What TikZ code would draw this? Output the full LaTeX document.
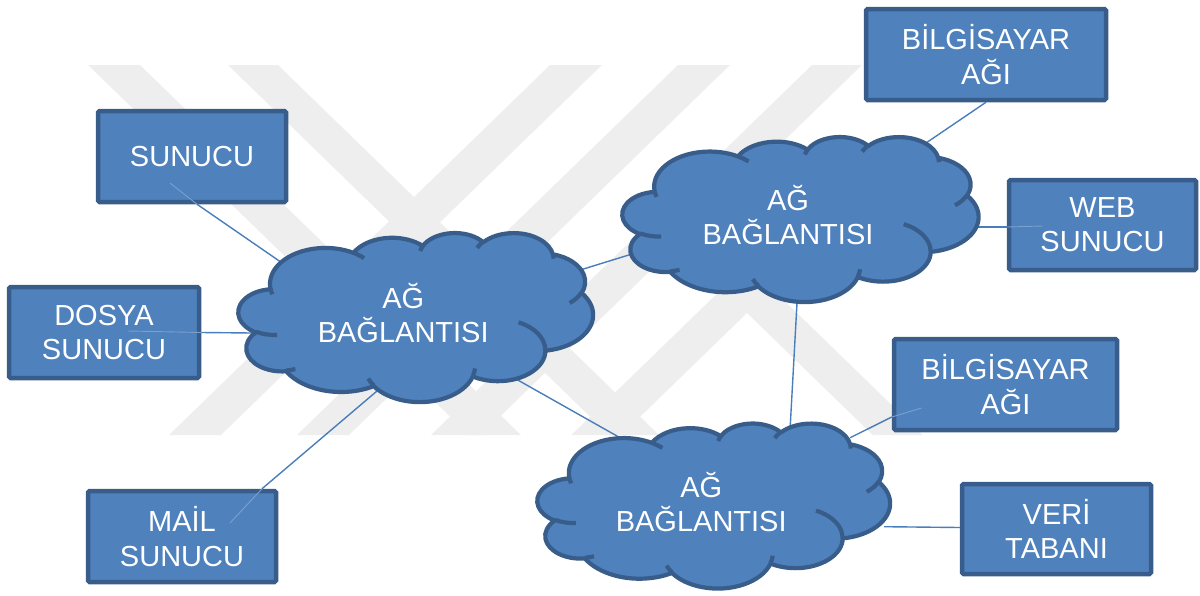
\documentclass[tikz,border=0pt]{standalone}
\usepackage{fontspec}
\setmainfont{Liberation Sans}
\usetikzlibrary{calc}
\definecolor{cfill}{HTML}{4F81BD}
\definecolor{cline}{HTML}{385D8A}
\definecolor{connc}{HTML}{4A7EBB}
\definecolor{wmark}{HTML}{EEEEEE}
% DrawingML-style arcTo with visual angles
\newcommand\carc[4]{arc[x radius=#1, y radius=#2, start angle={atan2(#1*sin(#3),#2*cos(#3))}, delta angle={mod(atan2(#1*sin(#3+#4),#2*cos(#3+#4))-atan2(#1*sin(#3),#2*cos(#3))+720,360)}]}
\newcommand\cloudouter{(3.900,14.370)
 \carc{6.753}{9.190}{-190.4875}{123.7805}
 \carc{5.333}{7.267}{-144.1024}{89.9452}
 \carc{4.365}{5.945}{-145.8079}{99.7230}
 \carc{4.857}{6.595}{-130.9861}{117.2417}
 \carc{5.333}{7.273}{-78.7089}{109.0269}
 \carc{6.775}{9.220}{-46.2673}{130.2690}
 \carc{5.785}{7.867}{0.6250}{114.0333}
 \carc{6.752}{9.215}{22.4516}{115.1726}
 \carc{7.720}{10.543}{66.2426}{75.7110}
 \carc{4.360}{5.918}{-274.9421}{146.7356}
 \carc{4.345}{5.945}{-246.8285}{152.5189} -- cycle}
\newcommand\cloudinner{
 (4.693,26.177) \carc{4.345}{5.945}{86.7420}{26.4295}
 (6.928,34.899) \carc{4.360}{5.918}{73.6105}{11.4475}
 (16.478,39.090) \carc{6.752}{9.215}{137.6242}{14.0811}
 (28.827,34.751) \carc{6.752}{9.215}{6.4533}{15.9984}
 (34.129,22.954) \carc{5.785}{7.867}{-70.2924}{70.9174}
 (41.798,15.354) \carc{5.333}{7.273}{30.3180}{27.7515}
 (38.324,5.426) \carc{4.857}{6.595}{-13.7443}{14.8589}
 (29.078,3.952) \carc{4.857}{6.595}{-149.1815}{18.1954}
 (22.141,4.720) \carc{4.365}{5.945}{-163.4943}{17.6864}
 (14.000,5.192) \carc{6.753}{9.190}{-66.7070}{12.3194}
 (4.127,15.789) \carc{6.753}{9.190}{157.6544}{11.8582}}
\newcommand\drawcloud[4]{%
 \begin{scope}[shift={(#1,#2)},x=#3pt,y=-#4pt]
  \filldraw[cloudbody] \cloudouter;
  \draw[cloudbody,fill=none] \cloudinner;
 \end{scope}}
\tikzset{
 cloudbody/.style={fill=cfill,draw=cline,line width=4.2pt,line join=round},
 box/.style={rectangle,fill=cfill,draw=cline,line width=4.5pt,rounded corners=1.5pt,
   inner sep=0pt,text=white,align=center,font=\fontsize{29}{34.3}\selectfont},
 cloudtext/.style={inner sep=0pt,text=white,align=center,font=\fontsize{29}{34.3}\selectfont},
 connector/.style={draw=connc,line width=1.4pt},
 faintconn/.style={draw=cfill!75!white,line width=0.9pt},
 wmband/.style={fill=wmark}
}
\begin{document}
\begin{tikzpicture}[x=1pt,y=-1pt]
\useasboundingbox (0,0) rectangle (1200,595);
% watermark
\fill[wmband] (88,65) -- (140,65) -- (521,435) -- (469,435) -- cycle;
\fill[wmband] (228,65) -- (278,65) -- (659,435) -- (609,435) -- cycle;
\fill[wmband] (550,65) -- (602,65) -- (221,435) -- (169,435) -- cycle;
\fill[wmband] (678,65) -- (730,65) -- (349,435) -- (297,435) -- cycle;
\fill[wmband] (812,65) -- (862,65) -- (481,435) -- (431,435) -- cycle;
\fill[wmband] (747,264.5) -- (922.7,435) -- (872.7,435) -- (747,313) -- (621.3,435) -- (571.3,435) -- cycle;
% cloud centres
\coordinate (cL) at (403.2,313);
\coordinate (cT) at (788,215);
\coordinate (cB) at (701.2,501.7);
% boxes
\node[box,minimum width=188,minimum height=91] (sunucu) at (192,156.5) {SUNUCU};
\node[box,minimum width=190,minimum height=91] (dosya) at (104,332.5) {DOSYA\\SUNUCU};
\node[box,minimum width=188,minimum height=91] (mail) at (182,536.5) {MAİL\\SUNUCU};
\node[box,minimum width=240,minimum height=91] (bilgi1) at (986,54.5) {BİLGİSAYAR\\AĞI};
\node[box,minimum width=187,minimum height=90] (web) at (1102.5,225) {WEB\\SUNUCU};
\node[box,minimum width=223,minimum height=91] (bilgi2) at (1005.5,384.5) {BİLGİSAYAR\\AĞI};
\node[box,minimum width=189,minimum height=90] (veri) at (1056.5,529) {VERİ\\TABANI};
% connectors (behind clouds)
\draw[connector] ($(sunucu.south)+(5,0)$) -- ($(cL)+(-121,-50)$);
\draw[connector] (dosya.east) -- ($(cL)+(-151,20)$);
\draw[connector] ($(mail.north)+(80,0)$) -- ($(cL)+(-25,77)$);
\draw[connector] ($(cL)+(177,-43)$) -- ($(cT)+(-156,39)$);
\draw[connector] ($(cL)+(111,65)$) -- ($(cB)+(-83,-65)$);
\draw[connector] ($(cT)+(9,88)$) -- ($(cB)+(89,-75)$);
\draw[connector] (bilgi1.south) -- ($(cT)+(138,-72)$);
\draw[connector] ($(web.west)+(0,2)$) -- ($(cT)+(187,12)$);
\draw[connector] ($(bilgi2.west)+(0,32.5)$) -- ($(cB)+(149,-64)$);
\draw[connector] ($(veri.west)+(0,-1.5)$) -- ($(cB)+(183,25)$);
% faint continuations of connectors inside boxes
\draw[faintconn] ($(sunucu.center)+(-22,26.5)$) -- ($(sunucu.south)+(5,0)$);
\draw[faintconn] ($(dosya.center)+(24,-1.5)$) -- (dosya.east);
\draw[faintconn] ($(mail.center)+(48,-13.5)$) -- ($(mail.north)+(80,0)$);
\draw[faintconn] ($(web.center)+(-60,1)$) -- ($(web.west)+(0,2)$);
\draw[faintconn] ($(bilgi2.center)+(-84,23.5)$) -- ($(bilgi2.west)+(0,32.5)$);
% clouds
\drawcloud{238.5}{232.5}{8.206}{3.912}
\drawcloud{622.5}{136.5}{8.241}{3.819}
\drawcloud{537.5}{423}{8.160}{3.819}
% cloud texts
\node[cloudtext] (tL) at (cL) {AĞ\\BAĞLANTISI};
\node[cloudtext] (tT) at (cT) {AĞ\\BAĞLANTISI};
\node[cloudtext] (tB) at (cB) {AĞ\\BAĞLANTISI};
\end{tikzpicture}
\end{document}
